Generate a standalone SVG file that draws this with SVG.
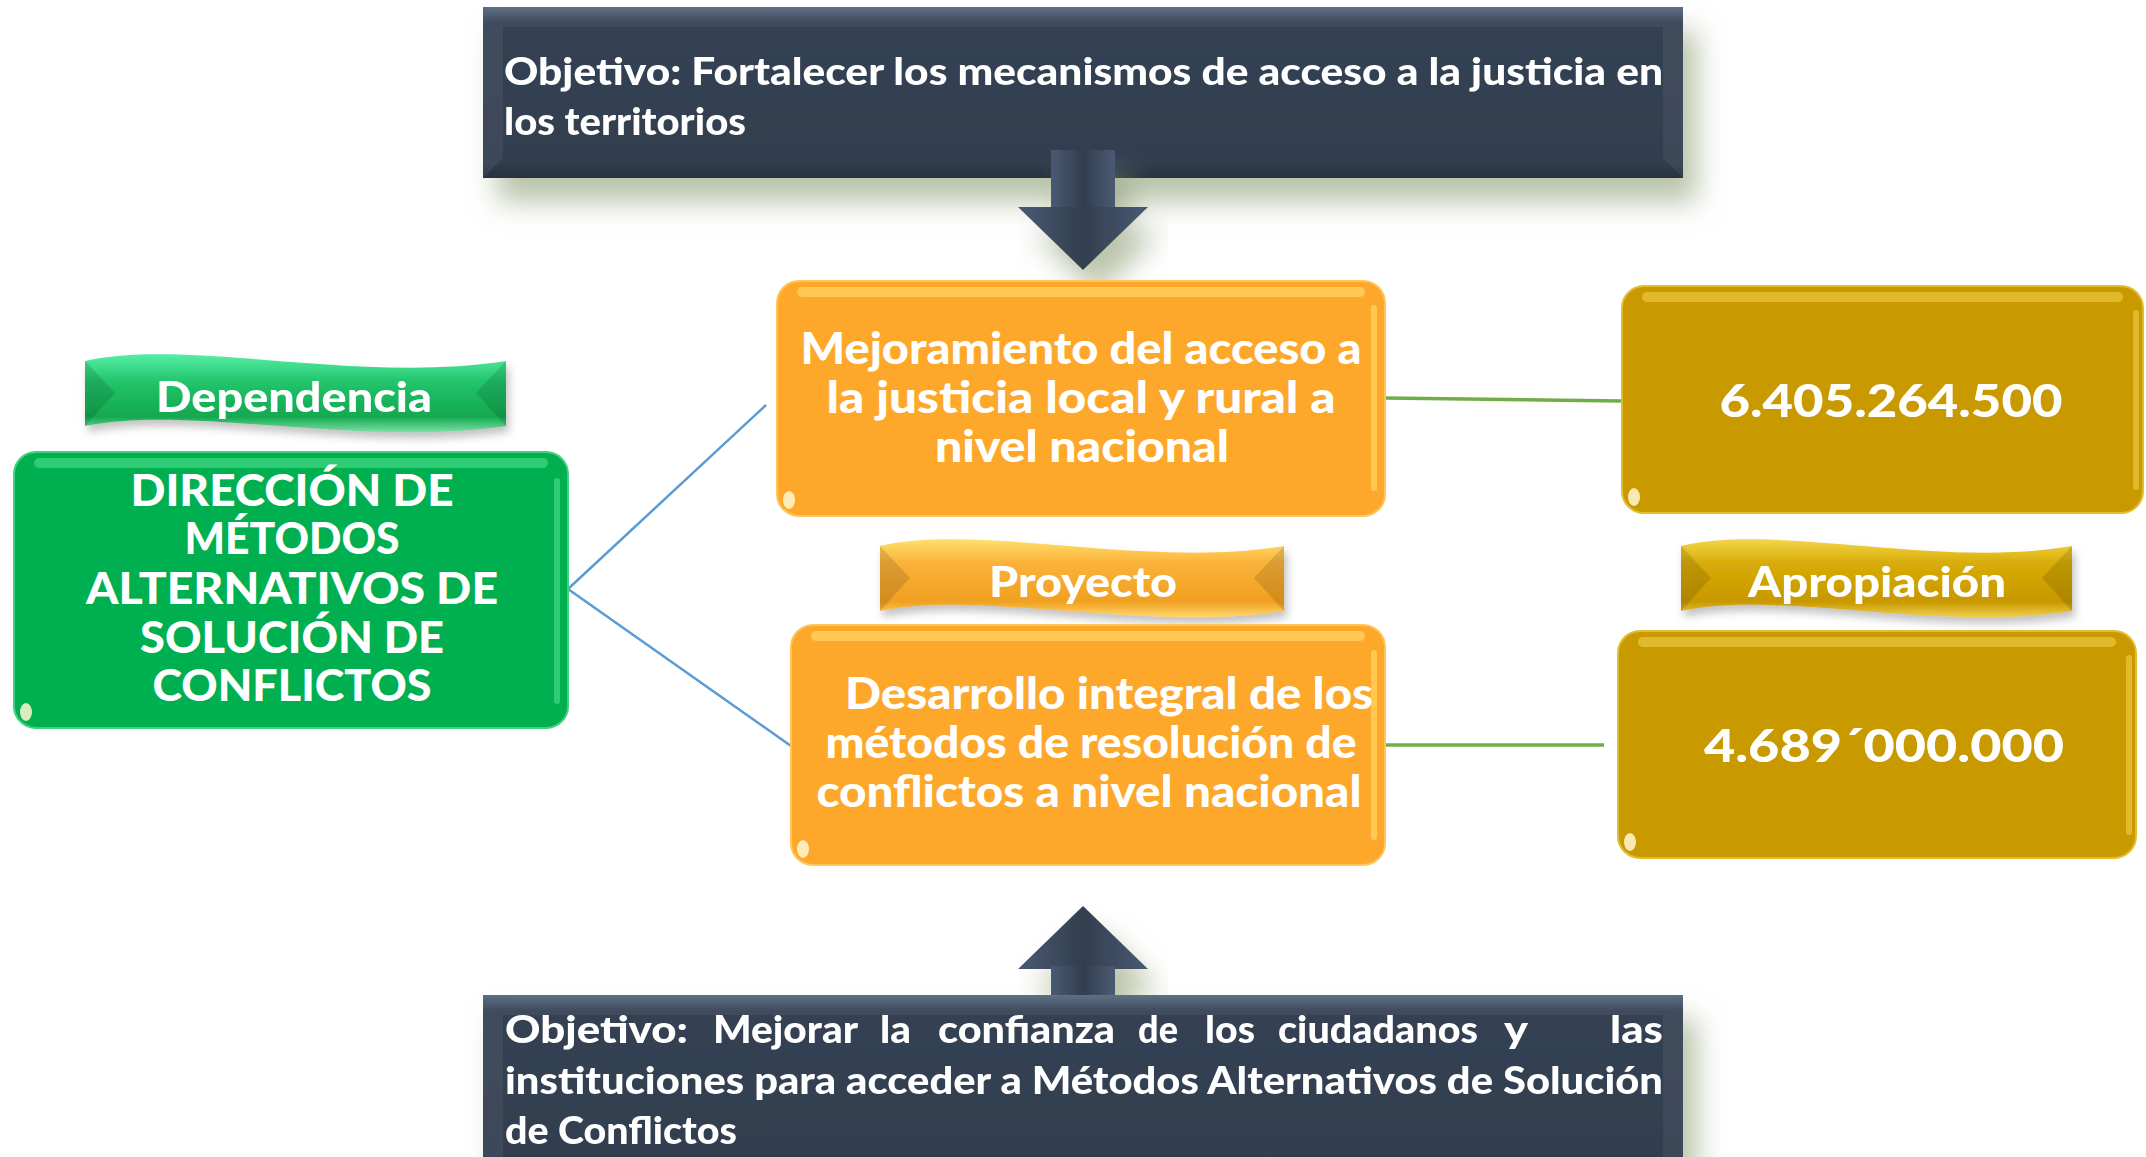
<svg xmlns="http://www.w3.org/2000/svg" width="2146" height="1157" viewBox="0 0 2146 1157">
<defs>
<linearGradient id="gDark" x1="0" y1="0" x2="0" y2="1">
<stop offset="0" stop-color="#56667f"/><stop offset="0.09" stop-color="#344153"/><stop offset="0.9" stop-color="#323e4f"/><stop offset="1" stop-color="#283241"/>
</linearGradient>
<linearGradient id="gArrow" x1="0" y1="0" x2="1" y2="0">
<stop offset="0" stop-color="#4a5a73"/><stop offset="0.5" stop-color="#323e4f"/><stop offset="1" stop-color="#4a5a73"/>
</linearGradient>
<linearGradient id="gBanGreen" x1="0" y1="0" x2="0" y2="1">
<stop offset="0" stop-color="#56eda6"/><stop offset="0.35" stop-color="#22c46a"/><stop offset="0.8" stop-color="#12a850"/><stop offset="1" stop-color="#7ee0a6"/>
</linearGradient>
<linearGradient id="gBanOrange" x1="0" y1="0" x2="0" y2="1">
<stop offset="0" stop-color="#ffe06a"/><stop offset="0.3" stop-color="#fbb23a"/><stop offset="0.8" stop-color="#f0a020"/><stop offset="1" stop-color="#ffd870"/>
</linearGradient>
<linearGradient id="gBanGold" x1="0" y1="0" x2="0" y2="1">
<stop offset="0" stop-color="#f3d54a"/><stop offset="0.3" stop-color="#d8ac08"/><stop offset="0.8" stop-color="#c89800"/><stop offset="1" stop-color="#f0d050"/>
</linearGradient>
<filter id="shDark" x="-10%" y="-20%" width="125%" height="160%">
<feGaussianBlur in="SourceAlpha" stdDeviation="14"/>
<feOffset dx="14" dy="24" result="b"/>
<feFlood flood-color="#8c9c72" flood-opacity="0.6"/>
<feComposite in2="b" operator="in"/>
<feMerge><feMergeNode/><feMergeNode in="SourceGraphic"/></feMerge>
</filter>
<filter id="shSoft" x="-10%" y="-20%" width="125%" height="160%">
<feGaussianBlur in="SourceAlpha" stdDeviation="4"/>
<feOffset dx="3" dy="6" result="b"/>
<feFlood flood-color="#777" flood-opacity="0.45"/>
<feComposite in2="b" operator="in"/>
<feMerge><feMergeNode/><feMergeNode in="SourceGraphic"/></feMerge>
</filter>
</defs>
<style>
.dark{fill:url(#gDark);}
.arrow{fill:url(#gArrow);}
.orange{fill:#fea82b;stroke:#ffc45a;stroke-width:2;}
.gold{fill:#c99a00;stroke:#e2bd30;stroke-width:2;}
.green{fill:#00b050;stroke:#40d080;stroke-width:2;}
.hl-o{fill:#ffd766;opacity:0.7;}
.hl-g{fill:#e9c73c;opacity:0.7;}
.hl-n{fill:#4fe08f;opacity:0.6;}
.dot{fill:#fff7d0;opacity:0.85;}
.bev{fill:#ffffff;opacity:0.06;}
.t{font-family:"Lato","Open Sans","Liberation Sans",sans-serif;font-weight:900;fill:#ffffff;}
.td{font-size:38px;}
.tn{font-size:44px;text-anchor:middle;}
.tb{font-size:42px;text-anchor:middle;}
.tm{font-size:46px;text-anchor:middle;}
.blue{stroke:#5b9bd5;stroke-width:2.5;fill:none;}
.gl{stroke:#70ad47;stroke-width:3.5;fill:none;}
.bend{fill:#000;opacity:0.12;}
</style>

<g id="connectors">
<path class="blue" d="M568,589 L766,405"/>
<path class="blue" d="M568,589 L791,746"/>
<path class="gl" d="M1385,398 L1622,401"/>
<path class="gl" d="M1385,745 L1604,745"/>
</g>

<g id="objetivo-top" filter="url(#shDark)">
<rect class="dark" x="483" y="7" width="1200" height="171"/>
<polygon class="bev" points="483,7 1683,7 1663,27 503,27"/>
<polygon class="bev" points="483,7 503,27 503,158 483,178"/>
<polygon class="bev" points="1683,7 1663,27 1663,158 1683,178"/>
<text class="t td"><tspan x="504" y="85" textLength="1159" lengthAdjust="spacingAndGlyphs">Objetivo: Fortalecer los mecanismos de acceso a la justicia en</tspan><tspan x="504" y="135" textLength="242" lengthAdjust="spacingAndGlyphs">los territorios</tspan></text>
</g>

<g id="arrow-down" filter="url(#shDark)">
<rect class="arrow" x="1051" y="150" width="64" height="60"/>
<polygon class="arrow" points="1018,207 1148,207 1083,270"/>
</g>

<g id="banner-dependencia" filter="url(#shSoft)">
<path fill="url(#gBanGreen)" d="M85,361 C190,338 358,384 506,361 L506,426 C358,448 190,404 85,426 Z"/>
<polygon class="bend" points="85,361 115,393 85,426"/>
<polygon class="bend" points="506,361 476,393 506,426"/>
<text class="t tb" x="294" y="412" textLength="276" lengthAdjust="spacingAndGlyphs">Dependencia</text>
</g>

<g id="dependencia">
<rect class="green" x="14" y="452" width="554" height="276" rx="22"/>
<rect class="hl-n" x="34" y="458" width="514" height="10" rx="5"/>
<rect class="hl-n" x="554" y="478" width="6" height="226" rx="3"/>
<ellipse class="dot" cx="26" cy="712" rx="6" ry="9"/>
<text class="t tn"><tspan x="292" y="506" textLength="323" lengthAdjust="spacingAndGlyphs">DIRECCIÓN DE</tspan><tspan x="292" y="554" textLength="215" lengthAdjust="spacingAndGlyphs">MÉTODOS</tspan><tspan x="292" y="604" textLength="412" lengthAdjust="spacingAndGlyphs">ALTERNATIVOS DE</tspan><tspan x="292" y="653" textLength="304" lengthAdjust="spacingAndGlyphs">SOLUCIÓN DE</tspan><tspan x="292" y="701" textLength="279" lengthAdjust="spacingAndGlyphs">CONFLICTOS</tspan></text>
</g>

<g id="proyecto-1">
<rect class="orange" x="777" y="281" width="608" height="235" rx="22"/>
<rect class="hl-o" x="797" y="287" width="568" height="10" rx="5"/>
<rect class="hl-o" x="1371" y="305" width="6" height="186" rx="3"/>
<ellipse class="dot" cx="789" cy="500" rx="6" ry="9"/>
<text class="t tn"><tspan x="1081" y="364" textLength="561" lengthAdjust="spacingAndGlyphs">Mejoramiento del acceso a</tspan><tspan x="1081" y="413" textLength="509" lengthAdjust="spacingAndGlyphs">la justicia local y rural a</tspan><tspan x="1082" y="462" textLength="294" lengthAdjust="spacingAndGlyphs">nivel nacional</tspan></text>
</g>

<g id="banner-proyecto" filter="url(#shSoft)">
<path fill="url(#gBanOrange)" d="M880,546 C981,523 1145,569 1284,546 L1284,611 C1145,633 981,589 880,611 Z"/>
<polygon class="bend" points="880,546 910,578 880,611"/>
<polygon class="bend" points="1284,546 1254,578 1284,611"/>
<text class="t tb" x="1083" y="597" textLength="188" lengthAdjust="spacingAndGlyphs">Proyecto</text>
</g>

<g id="proyecto-2">
<rect class="orange" x="791" y="625" width="594" height="240" rx="22"/>
<rect class="hl-o" x="811" y="631" width="554" height="10" rx="5"/>
<rect class="hl-o" x="1371" y="650" width="6" height="190" rx="3"/>
<ellipse class="dot" cx="803" cy="849" rx="6" ry="9"/>
<text class="t tn"><tspan x="1109" y="709" textLength="528" lengthAdjust="spacingAndGlyphs">Desarrollo integral de los</tspan><tspan x="1091" y="758" textLength="531" lengthAdjust="spacingAndGlyphs">métodos de resolución de</tspan><tspan x="1089" y="807" textLength="545" lengthAdjust="spacingAndGlyphs">conflictos a nivel nacional</tspan></text>
</g>

<g id="apropiacion-1">
<rect class="gold" x="1622" y="286" width="521" height="227" rx="22"/>
<rect class="hl-g" x="1642" y="292" width="481" height="10" rx="5"/>
<rect class="hl-g" x="2133" y="310" width="6" height="180" rx="3"/>
<ellipse class="dot" cx="1634" cy="497" rx="6" ry="9"/>
<text class="t tm" x="1891" y="417" textLength="343" lengthAdjust="spacingAndGlyphs">6.405.264.500</text>
</g>

<g id="banner-apropiacion" filter="url(#shSoft)">
<path fill="url(#gBanGold)" d="M1681,546 C1779,523 1938,569 2072,546 L2072,611 C1938,633 1779,589 1681,611 Z"/>
<polygon class="bend" points="1681,546 1711,578 1681,611"/>
<polygon class="bend" points="2072,546 2042,578 2072,611"/>
<text class="t tb" x="1877" y="597" textLength="258" lengthAdjust="spacingAndGlyphs">Apropiación</text>
</g>

<g id="apropiacion-2">
<rect class="gold" x="1618" y="631" width="518" height="227" rx="22"/>
<rect class="hl-g" x="1638" y="637" width="478" height="10" rx="5"/>
<rect class="hl-g" x="2126" y="655" width="6" height="180" rx="3"/>
<ellipse class="dot" cx="1630" cy="842" rx="6" ry="9"/>
<text class="t tm" x="1884" y="762" textLength="360" lengthAdjust="spacingAndGlyphs">4.689´000.000</text>
</g>

<g id="arrow-up" filter="url(#shDark)">
<polygon class="arrow" points="1083,906 1148,969 1018,969"/>
<rect class="arrow" x="1051" y="966" width="64" height="40"/>
</g>

<g id="objetivo-bottom" filter="url(#shDark)">
<rect class="dark" x="483" y="995" width="1200" height="175"/>
<polygon class="bev" points="483,995 1683,995 1663,1015 503,1015"/>
<polygon class="bev" points="483,995 503,1015 503,1157 483,1157"/>
<polygon class="bev" points="1683,995 1663,1015 1663,1157 1683,1157"/>
<text class="t td"><tspan x="505" y="1043" textLength="183" lengthAdjust="spacingAndGlyphs">Objetivo:</tspan><tspan x="713" y="1043" textLength="145" lengthAdjust="spacingAndGlyphs">Mejorar</tspan><tspan x="880" y="1043" textLength="31" lengthAdjust="spacingAndGlyphs">la</tspan><tspan x="938" y="1043" textLength="177" lengthAdjust="spacingAndGlyphs">confianza</tspan><tspan x="1138" y="1043" textLength="40" lengthAdjust="spacingAndGlyphs">de</tspan><tspan x="1205" y="1043" textLength="50" lengthAdjust="spacingAndGlyphs">los</tspan><tspan x="1278" y="1043" textLength="200" lengthAdjust="spacingAndGlyphs">ciudadanos</tspan><tspan x="1504" y="1043" textLength="24" lengthAdjust="spacingAndGlyphs">y</tspan><tspan x="1610" y="1043" textLength="53" lengthAdjust="spacingAndGlyphs">las</tspan><tspan x="505" y="1094" textLength="1158" lengthAdjust="spacingAndGlyphs">instituciones para acceder a Métodos Alternativos de Solución</tspan><tspan x="505" y="1144" textLength="232" lengthAdjust="spacingAndGlyphs">de Conflictos</tspan></text>
</g>
</svg>
